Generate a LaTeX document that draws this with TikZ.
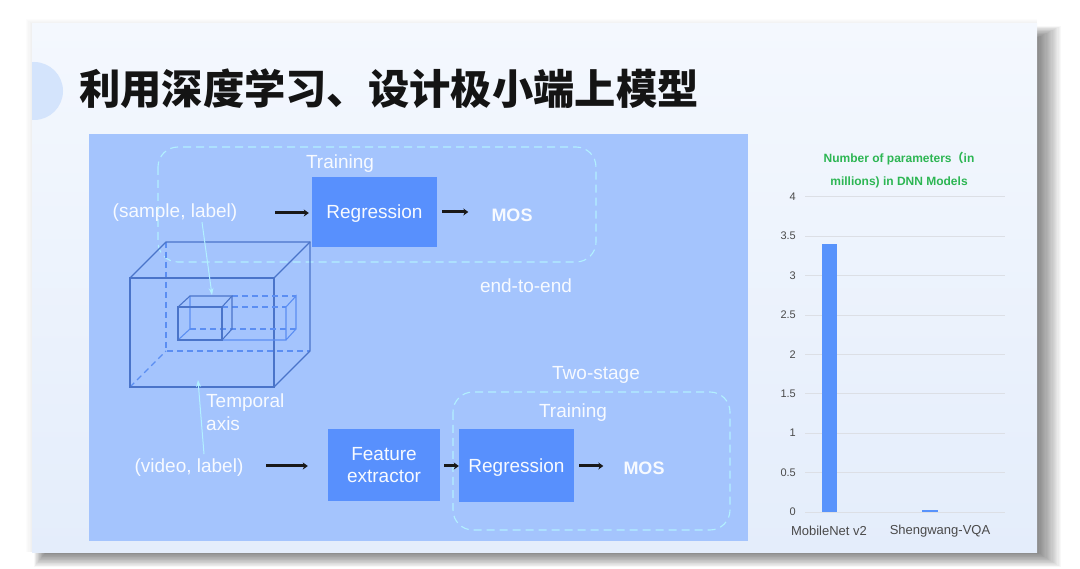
\documentclass[tikz,border=0pt]{standalone}
\usepackage{fontspec}
\setmainfont{Liberation Sans}
\newfontfamily\cjk{Noto Sans CJK SC}
\usetikzlibrary{arrows.meta}

\definecolor{slidetop}{HTML}{F4F8FE}
\definecolor{slidebot}{HTML}{E4EDFB}
\definecolor{panelblue}{HTML}{A4C4FD}
\definecolor{boxblue}{HTML}{5890FD}
\definecolor{dashcyan}{HTML}{B2F0FF}
\definecolor{cubeline}{HTML}{4A74C9}
\definecolor{cubedash}{HTML}{5B8EF2}
\definecolor{txtwhite}{HTML}{F7FAFF}
\definecolor{titlegreen}{HTML}{2DB653}
\definecolor{gridgray}{HTML}{DCDFE5}
\definecolor{axistxt}{HTML}{4A4A4A}
\definecolor{circleblue}{HTML}{D4E4FC}
\definecolor{barblue}{HTML}{5893FC}

\tikzset{
  txt/.style={text=txtwhite, font=\fontsize{19}{22}\selectfont, inner sep=0pt, align=left, anchor=base},
  mostxt/.style={text=txtwhite, font=\fontsize{18}{22}\selectfont\bfseries, inner sep=0pt, anchor=base},
  bluebox/.style={fill=boxblue, draw=none, text=txtwhite, font=\fontsize{19}{22}\selectfont, align=center, inner sep=0pt, text depth=0pt},
  dashbox/.style={draw=dashcyan, line width=1.1pt, dash pattern=on 8pt off 5pt, rounded corners=20pt},
  flowarrow/.style={draw=black!90, line width=3pt, -{Stealth[length=5pt,width=7pt]}},
  cyanarrow/.style={draw=dashcyan, line width=1pt, -{Stealth[length=7pt,width=5pt]}},
  cubesolid/.style={draw=cubeline, line width=1.1pt},
  cubehidden/.style={draw=cubedash, line width=1.1pt, dash pattern=on 6pt off 4pt},
  cubelight/.style={draw=cubedash, line width=1.1pt},
  axislbl/.style={text=axistxt, font=\fontsize{11}{13}\selectfont, inner sep=0pt, anchor=east},
  catlbl/.style={text=axistxt, font=\fontsize{13}{15}\selectfont, inner sep=0pt},
  grid/.style={draw=gridgray, line width=0.9pt}
}

\begin{document}
\begin{tikzpicture}[x=1pt,y=-1pt]
\useasboundingbox (0,0) rectangle (1080,569);
\fill[white] (0,0) rectangle (1080,569);

% slide shadow: strong right/bottom, faint top/left
\foreach \i in {1,...,20}{
  \fill[black,opacity=0.028] (46-\i*0.6,38-\i*0.6) rectangle (1037+\i*1.2,552+\i*0.75);
}
\foreach \i in {1,...,5}{
  \fill[black,opacity=0.012] (32-\i*1.2,24-\i*1.0) rectangle (1037,552);
}
% slide
\shade[top color=slidetop, bottom color=slidebot] (32,24) rectangle (1037,552);
\begin{scope}
  \clip (32,24) rectangle (1037,552);
  \fill[circleblue] (34,91) circle (29);
\end{scope}

% title
\node[anchor=base west, inner sep=0pt, font=\cjk\bfseries\fontsize{41.3}{41}\selectfont, text=black!92] (title) at (79,105) {利用深度学习、设计极小端上模型};

% panel
\fill[panelblue] (89,134) rectangle (748,541);

% top dashed group
\draw[dashbox] (158,147) rectangle (596,262);
\node[txt] (train1) at (340,169) {Training};
\node[txt] (sample) at (175,218) {(sample, label)};
\node[bluebox, minimum width=125pt, minimum height=70pt] (reg1) at (374.5,212) {Regression};
\node[mostxt] (mos1) at (512,222) {MOS};
\node[txt] (e2e) at (526,293) {end-to-end};
\coordinate (a1s) at (275,213);
\draw[flowarrow, shorten >=3pt] (a1s) -- (reg1.west |- a1s);
\draw[flowarrow, shorten <=5pt, shorten >=23pt] (reg1.east) -- (mos1.west |- reg1.east);

% big cube
\draw[cubehidden] (166,242) -- (166,351) -- (310,351);
\draw[cubehidden] (130,387) -- (166,351);
\draw[cubesolid] (130,278) rectangle (274,387);
\draw[cubesolid] (130,278) -- (166,242) -- (310,242) -- (310,351) -- (274,387);
\draw[cubesolid] (274,278) -- (310,242);

% extended slab
\draw[cubehidden] (232,296) -- (296,296);
\draw[cubehidden] (222,307) -- (286,307);
\draw[cubehidden] (190,329) -- (296,329);
\draw[cubelight] (222,340) -- (286,340) -- (286,307) -- (296,296) -- (296,329) -- (286,340);
% small cube
\draw[cubelight] (190,296) -- (190,329) -- (178,340);
\draw[cubesolid] (178,307) rectangle (222,340);
\draw[cubesolid] (178,307) -- (190,296) -- (232,296) -- (232,329) -- (222,340);
\draw[cubesolid] (222,307) -- (232,296);

% cyan pointer arrows
\coordinate (pin1) at (212,295);
\draw[cyanarrow] ([xshift=27pt]sample.south) -- (pin1);

\node[txt, anchor=base west] (temporal) at (206,431) {Temporal\\[1pt]axis};
\node[txt] (video) at (189,473) {(video, label)};
\coordinate (pin2) at (198,380);
\draw[cyanarrow] ([xshift=15pt,yshift=5pt]video.north) -- (pin2);

% bottom flow
\node[bluebox, minimum width=112pt, minimum height=72pt] (feat) at (384,465) {Feature\\extractor};
\draw[dashbox] (453,392) rectangle (730,530);
\node[txt] (twostage) at (596,380) {Two-stage};
\node[txt] (train2) at (573,418) {Training};
\node[bluebox, minimum width=115pt, minimum height=72pt] (reg2) at (516.5,465.5) {Regression};
\node[mostxt] (mos2) at (644,475) {MOS};
\coordinate (a2s) at (266,466);
\draw[flowarrow, shorten >=20pt] (a2s) -- (feat.west |- a2s);
\draw[flowarrow, shorten <=4pt, shorten >=0pt] (feat.east |- a2s) -- (reg2.west |- a2s);
\draw[flowarrow, shorten <=5pt, shorten >=20pt] (reg2.east |- a2s) -- (mos2.west |- a2s);

% chart
\node[text=titlegreen, font=\fontsize{12}{23}\selectfont\bfseries, align=center, inner sep=0pt] (ctitle) at (899,170) {Number of parameters{\cjk （}in\\millions) in DNN Models};
\foreach \v/\l in {0/0,1/0.5,2/1,3/1.5,4/2,5/2.5,6/3,7/3.5,8/4}{
  \draw[grid] (805,512-\v*39.4) -- (1005,512-\v*39.4);
  \node[axislbl] at (796,512-\v*39.4) {\l};
}
\fill[barblue] (822,244) rectangle (837,512);
\fill[barblue] (922,510) rectangle (938,512);
\node[catlbl] (cat1) at (829,531) {MobileNet v2};
\node[catlbl] (cat2) at (940,531) {Shengwang-VQA};
\end{tikzpicture}
\end{document}
